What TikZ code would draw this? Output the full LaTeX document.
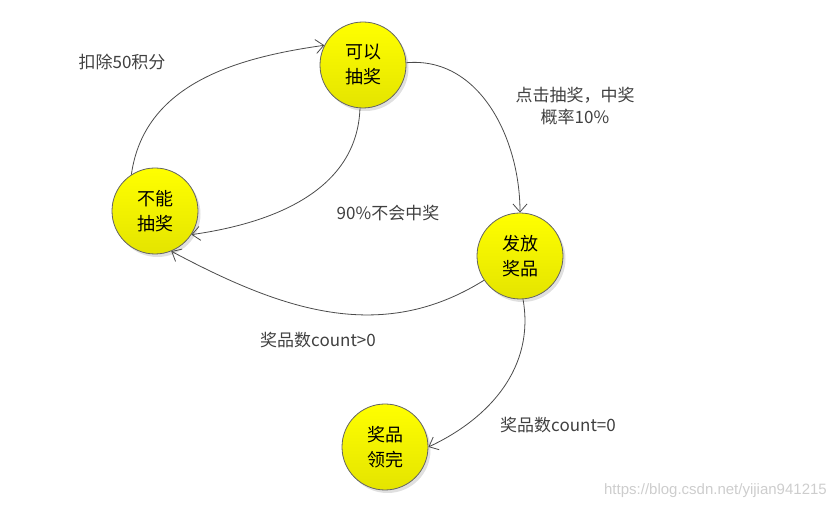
\documentclass[tikz,border=0pt]{standalone}
\usepackage{fontspec}
\setmainfont{Noto Sans CJK SC}
\newfontfamily\wmfont{Liberation Sans}
\usetikzlibrary{arrows.meta,shadows}
\definecolor{ylwtop}{RGB}{255,255,0}
\definecolor{ylwbot}{RGB}{228,228,0}
\definecolor{rimgray}{RGB}{100,100,100}
\definecolor{linegray}{RGB}{75,75,75}
\definecolor{labelgray}{RGB}{64,64,64}
\definecolor{wmgray}{RGB}{205,205,205}
\tikzset{
  state/.style={circle, minimum size=86pt, inner sep=0pt, draw=rimgray, line width=0.8pt,
    top color=ylwtop, bottom color=ylwbot, align=center,
    font=\fontsize{18}{25}\selectfont, text=black,
    drop shadow={shadow xshift=2.5pt, shadow yshift=-3pt, fill=black, opacity=0.12}},
  trans/.style={draw=linegray, line width=0.8pt, -{Straight Barb[length=8pt,width=14pt]}},
  lbl/.style={font=\fontsize{17}{22}\selectfont, text=labelgray, align=center, inner sep=0pt}
}
\begin{document}
\begin{tikzpicture}[x=1pt,y=1pt]
\useasboundingbox (0,0) rectangle (836,508);
\node[state] (kj) at (363,443) {可以\\抽奖};
\node[state] (bn) at (155,297) {不能\\抽奖};
\node[state] (ff) at (520,252) {发放\\奖品};
\node[state] (lw) at (385,61) {奖品\\领完};

\draw[trans] (bn.123) to[out=82, in=188] (kj.153);
\draw[trans] (kj.-94) to[out=-92, in=8] (bn.-33);
\draw[trans] (kj.3) to[out=5, in=90] (ff.north);
\draw[trans] (ff.214) to[out=212, in=-28] (bn.-68);
\draw[trans] (ff.-86) to[out=-80, in=25] (lw.east);

\node[lbl] (l1) at (122,446) {扣除50积分};
\node[lbl] (l2) at (388,295) {90\%不会中奖};
\node[lbl] (l3) at (575,402) {点击抽奖，中奖\\概率10\%};
\node[lbl] (l4) at (318,168) {奖品数count>0};
\node[lbl] (l5) at (558,83) {奖品数count=0};
\node[font=\wmfont\fontsize{15}{18}\selectfont, text=wmgray, anchor=east, inner sep=0pt] (wm) at (827,17) {https://blog.csdn.net/yijian941215};
\end{tikzpicture}
\end{document}
